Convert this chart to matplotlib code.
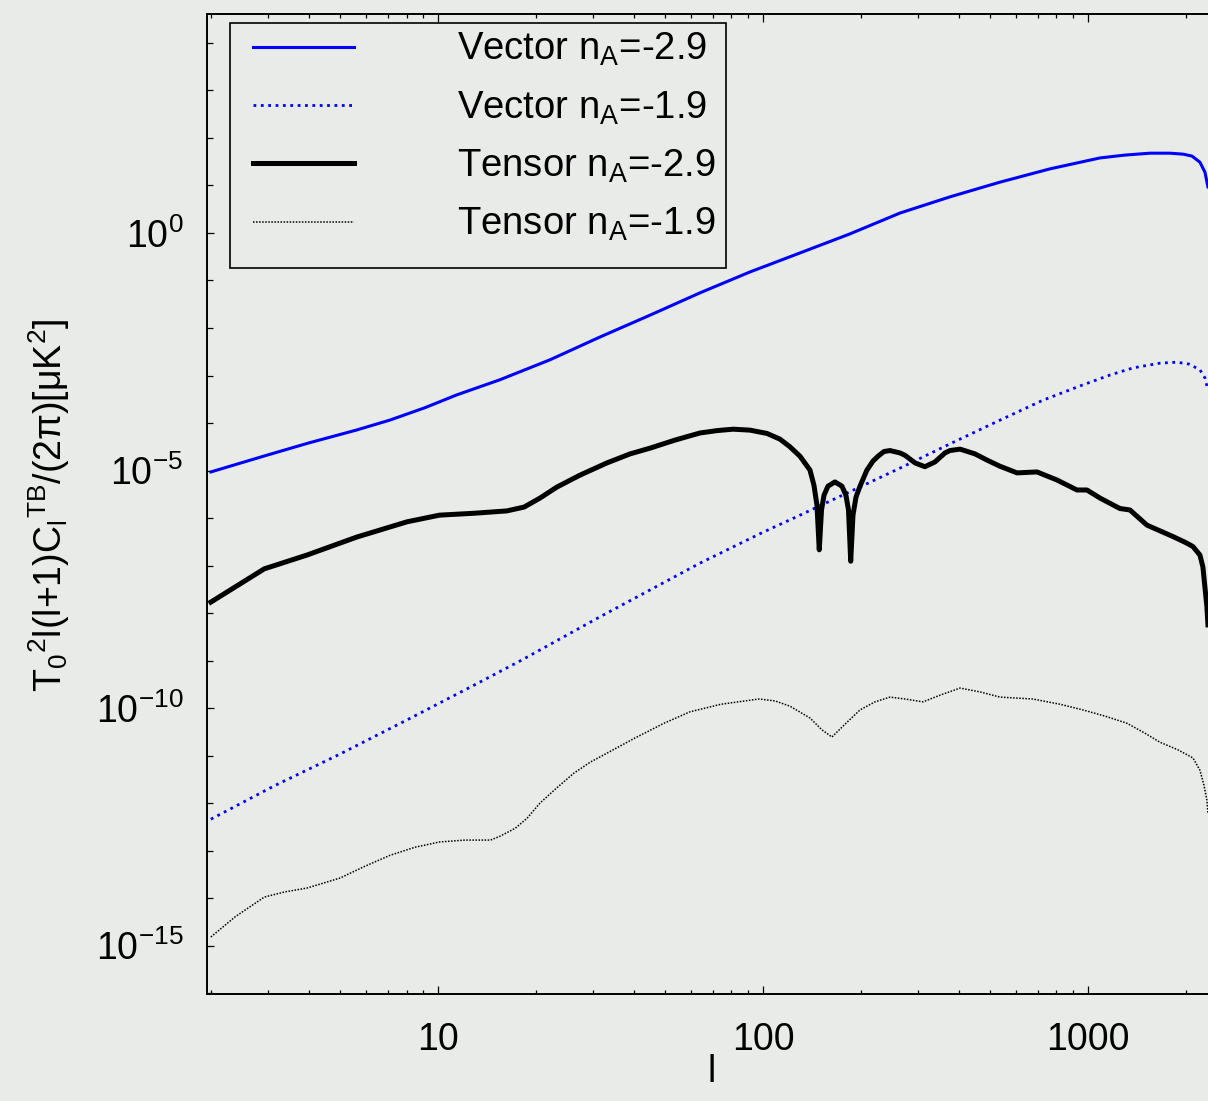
import numpy as np
import matplotlib
matplotlib.use("Agg")
import matplotlib.pyplot as plt
from matplotlib.patches import Rectangle
from matplotlib.ticker import NullFormatter, LogLocator

plt.rcParams['font.family'] = ['Liberation Sans', 'DejaVu Sans']
plt.rcParams['mathtext.fontset'] = 'custom'
plt.rcParams['mathtext.rm'] = 'Liberation Sans'
plt.rcParams['mathtext.it'] = 'Liberation Sans'
plt.rcParams['mathtext.default'] = 'regular'

# multipole l and log10 of T0^2 l(l+1) C_l^TB / 2pi
vec29_l = [2, 2.9, 4, 5.6, 7.1, 9.1, 11.4, 15.5, 22.1, 31.5, 44.9, 64, 91.2, 130, 185, 264,
           376, 536, 764, 1089, 1299, 1552, 1788, 1960, 2089, 2211, 2291, 2340]
vec29_log = [-5.03, -4.70, -4.42, -4.15, -3.94, -3.68, -3.41, -3.09, -2.67, -2.19, -1.73,
             -1.26, -0.82, -0.42, -0.02, 0.42, 0.76, 1.07, 1.35, 1.58, 1.64, 1.68, 1.68,
             1.66, 1.62, 1.49, 1.28, 0.97]

vec19_l = [2, 3.13, 4.99, 8.03, 12.9, 18.1, 31.5, 64, 100, 130, 264, 376, 536, 727, 945,
           1169, 1376, 1666, 1878, 2046, 2211, 2291, 2340]
vec19_log = [-12.34, -11.64, -10.97, -10.25, -9.52, -8.99, -8.08, -6.95, -6.30, -5.94,
             -4.95, -4.44, -3.94, -3.52, -3.22, -2.99, -2.84, -2.74, -2.72, -2.76, -2.88,
             -3.05, -3.31]

ten29_l = [2, 2.92, 3.95, 5.63, 8.03, 10.1, 12.9, 16.3, 18.4, 20.6, 23.2, 27.3, 33.1, 39.0,
           44.9, 53.6, 64, 72.2, 80.9, 91.2, 102.9, 112.8, 121, 130, 139.5, 143.5, 146.6,
           149.0, 151.4, 154.1, 158.5, 166.5, 175.0, 180.0, 183.3, 186.2, 189.2, 193.3,
           198.9, 208.9, 218.1, 225.9, 235.7, 246, 264, 273.5, 283.5, 293.7, 315, 338.2,
           363.1, 376, 404, 449, 489, 536, 605, 697, 803, 925, 993, 1089, 1254, 1346, 1519,
           1666, 1826, 1989, 2104, 2211, 2258, 2323, 2340]
ten29_log = [-7.77, -7.07, -6.78, -6.40, -6.08, -5.94, -5.90, -5.85, -5.77, -5.58, -5.35,
             -5.10, -4.84, -4.65, -4.53, -4.36, -4.21, -4.16, -4.13, -4.15, -4.22, -4.34,
             -4.50, -4.70, -4.99, -5.31, -5.73, -6.67, -5.83, -5.52, -5.33, -5.24, -5.33,
             -5.52, -5.83, -6.91, -5.94, -5.56, -5.33, -4.99, -4.80, -4.70, -4.60, -4.58,
             -4.63, -4.68, -4.76, -4.84, -4.92, -4.82, -4.63, -4.58, -4.55, -4.65, -4.78,
             -4.91, -5.05, -5.03, -5.20, -5.41, -5.41, -5.58, -5.80, -5.83, -6.15, -6.27,
             -6.39, -6.51, -6.60, -6.78, -7.03, -7.87, -8.25]

ten19_l = [2, 2.37, 2.92, 3.38, 3.95, 4.99, 5.96, 7.12, 8.5, 10.1, 12.1, 14.5, 15.5, 17.3,
           18.8, 20.6, 23.2, 26.2, 29.4, 33.1, 40.4, 49.6, 59.6, 74.3, 97.2, 108.9, 121,
           139.5, 151.9, 163, 178.8, 198.9, 221.1, 246, 273.5, 310.7, 350.4, 404, 465, 536,
           677, 820, 965, 1128, 1318, 1498, 1666, 1892, 2104, 2211, 2274, 2323, 2340]
ten19_log = [-14.82, -14.40, -13.98, -13.87, -13.79, -13.58, -13.33, -13.10, -12.93, -12.82,
             -12.78, -12.78, -12.70, -12.53, -12.32, -12.00, -11.68, -11.37, -11.14, -10.95,
             -10.63, -10.32, -10.08, -9.92, -9.81, -9.85, -9.96, -10.21, -10.46, -10.61,
             -10.34, -10.04, -9.87, -9.77, -9.81, -9.87, -9.73, -9.58, -9.66, -9.77, -9.81,
             -9.92, -10.04, -10.17, -10.32, -10.53, -10.72, -10.88, -11.05, -11.31, -11.62,
             -11.94, -12.21]

labels = ['Vector n$_A$=-2.9', 'Vector n$_A$=-1.9', 'Tensor n$_A$=-2.9', 'Tensor n$_A$=-1.9']

bg = '#e9ebe9'
fig = plt.figure(figsize=(12.08, 11.01), dpi=100, facecolor=bg)
ax = fig.add_axes([207 / 1208, 1 - 994 / 1101, (1243 - 207) / 1208, (994 - 14) / 1101])
ax.set_facecolor(bg)

ax.plot(vec29_l, 10.0 ** np.array(vec29_log), color='#0000ff', lw=2.2, label=labels[0])
ax.plot(vec19_l, 10.0 ** np.array(vec19_log), color='#0000ff', lw=2.0, ls=':', label=labels[1])
ax.plot(ten29_l, 10.0 ** np.array(ten29_log), color='black', lw=3.6, label=labels[2])
ax.plot(ten19_l, 10.0 ** np.array(ten19_log), color='black', lw=1.1, ls=(0, (1, 1)),
        label=labels[3])

ax.set_xscale('log')
ax.set_yscale('log')
ax.set_xlim(1.946, 3000)
ax.set_ylim(10 ** -16.02, 10 ** 4.61)

ax.set_xticks([10, 100, 1000])
ax.set_xticklabels(['10', '100', '1000'])
ax.xaxis.set_minor_locator(LogLocator(base=10, subs=np.arange(2, 10)))
ax.xaxis.set_minor_formatter(NullFormatter())
ax.set_yticks([1e-15, 1e-10, 1e-5, 1e0])
ax.set_yticklabels(['10$^{-15}$', '10$^{-10}$', '10$^{-5}$', '10$^{0}$'])
ax.set_yticks([10.0 ** k for k in range(-16, 5)], minor=True)
ax.yaxis.set_minor_formatter(NullFormatter())

ax.tick_params(which='both', direction='in', top=True, right=True, labelsize=27, width=0.9)
ax.tick_params(axis='x', which='major', length=6, pad=20)
ax.tick_params(axis='x', which='minor', length=3)
ax.tick_params(axis='y', which='major', length=5, pad=17)
ax.tick_params(axis='y', which='minor', length=4.5)
for s in ax.spines.values():
    s.set_linewidth(1.4)

ax.set_ylabel('T$_0$$^2$l(l+1)C$_l$$^{TB}$/(2π)[μK$^2$]', fontsize=27)
ax.yaxis.set_label_coords(-0.130, 0.499)
ax.set_xlabel('l', fontsize=27)
ax.xaxis.set_label_coords(0.4875, -0.061)

leg = ax.legend(loc='upper left', bbox_to_anchor=(0.0444, 0.9827), frameon=False,
                fontsize=27.5, borderpad=0, borderaxespad=0, handlelength=2.65,
                handletextpad=2.7, labelspacing=0.55)
ax.add_patch(Rectangle((0.0222, 0.7408), 0.501 - 0.0222, 0.9908 - 0.7408,
                       transform=ax.transAxes, fill=False, ec='black', lw=1.2, zorder=5))

fig.savefig('out.png', dpi=100, facecolor=bg)
